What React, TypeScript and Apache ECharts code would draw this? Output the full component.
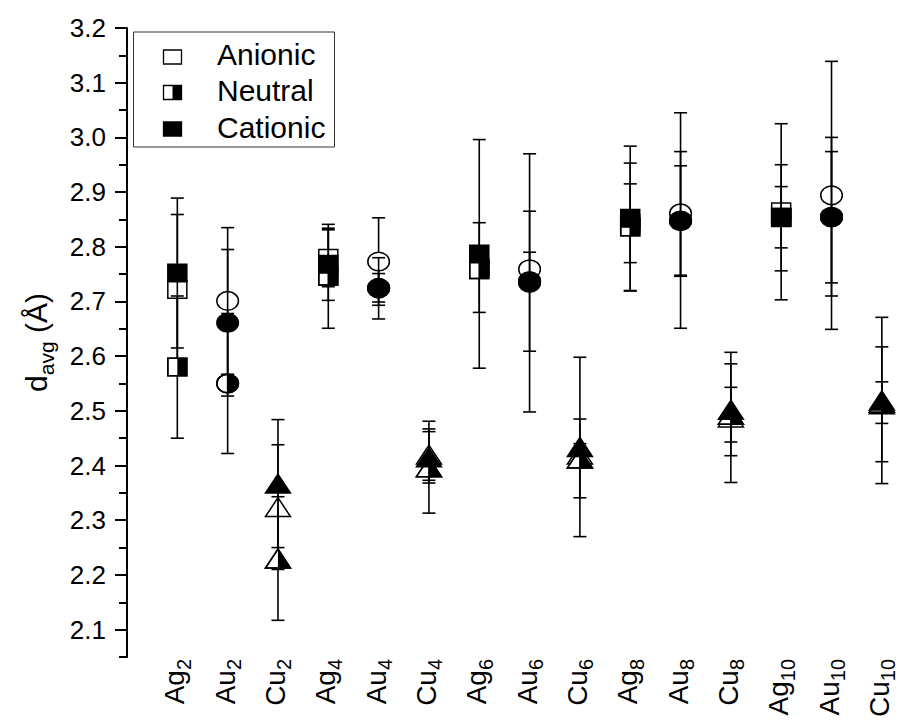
import React, { useEffect, useRef } from 'react';
import * as echarts from 'echarts';

const categories = ['Ag2', 'Au2', 'Cu2', 'Ag4', 'Au4', 'Cu4', 'Ag6', 'Au6', 'Cu6', 'Ag8', 'Au8', 'Cu8', 'Ag10', 'Au10', 'Cu10'];
const seriesNames = ['Anionic', 'Neutral', 'Cationic'];

const anionic = [2.722, 2.701, 2.324, 2.779, 2.773, 2.420, 2.762, 2.759, 2.420, 2.843, 2.861, 2.488, 2.864, 2.894, 2.512];
const anionicErr = [0.137, 0.134, 0.114, 0.052, 0.080, 0.047, 0.082, 0.031, 0.020, 0.072, 0.113, 0.119, 0.161, 0.245, 0.105];
const neutral = [2.580, 2.550, 2.230, 2.746, 2.724, 2.397, 2.758, 2.737, 2.413, 2.836, 2.847, 2.493, 2.854, 2.854, 2.515];
const neutralErr = [0.130, 0.128, 0.113, 0.095, 0.056, 0.084, 0.015, 0.128, 0.072, 0.117, 0.101, 0.050, 0.056, 0.120, 0.038];
const cationic = [2.752, 2.661, 2.367, 2.768, 2.725, 2.415, 2.787, 2.734, 2.434, 2.852, 2.848, 2.502, 2.853, 2.855, 2.519];
const cationicErr = [0.137, 0.134, 0.117, 0.066, 0.026, 0.047, 0.209, 0.236, 0.164, 0.132, 0.197, 0.084, 0.097, 0.145, 0.152];

const yTicks = [2.1, 2.2, 2.3, 2.4, 2.5, 2.6, 2.7, 2.8, 2.9, 3.0, 3.1, 3.2];
const yMinorTicks = [2.05, 2.15, 2.25, 2.35, 2.45, 2.55, 2.65, 2.75, 2.85, 2.95, 3.05, 3.15];

const FONT = '"Liberation Sans", Arial, Helvetica, sans-serif';

function halfEllipse(cx: number, cy: number, rx: number, ry: number) {
  const pts: number[][] = [];
  for (let k = 0; k <= 24; k++) {
    const a = -Math.PI / 2 + (Math.PI * k) / 24;
    pts.push([cx + rx * Math.cos(a), cy + ry * Math.sin(a)]);
  }
  return pts;
}

function makeRender(kind: number) {
  return (params: any, api: any) => {
    const xi = api.value(0);
    const v = api.value(1);
    const e = api.value(2);
    const p = api.coord([xi, v]);
    const t = api.coord([xi, v + e]);
    const b = api.coord([xi, v - e]);
    const el = categories[xi - 1].slice(0, 2);
    const bar = { stroke: '#000', lineWidth: 1.6, fill: 'none' };
    const cw = 6.5;
    const children: any[] = [
      { type: 'line', shape: { x1: p[0], y1: t[1], x2: p[0], y2: b[1] }, style: bar },
      { type: 'line', shape: { x1: p[0] - cw, y1: t[1], x2: p[0] + cw, y2: t[1] }, style: bar },
      { type: 'line', shape: { x1: p[0] - cw, y1: b[1], x2: p[0] + cw, y2: b[1] }, style: bar },
    ];
    const fill = kind === 2 ? '#000' : '#fff';
    const ms = { fill, stroke: '#000', lineWidth: 1.5 };
    const outline = { fill: 'none', stroke: '#000', lineWidth: 1.5 };
    const [cx, cy] = p;
    if (el === 'Ag') {
      const w = 19, h = 17.5;
      children.push({ type: 'rect', shape: { x: cx - w / 2, y: cy - h / 2, width: w, height: h }, style: ms });
      if (kind === 1) {
        children.push({ type: 'rect', shape: { x: cx, y: cy - h / 2, width: w / 2, height: h }, style: { fill: '#000' } });
        children.push({ type: 'rect', shape: { x: cx - w / 2, y: cy - h / 2, width: w, height: h }, style: outline });
      }
    } else if (el === 'Au') {
      const rx = 10.8, ry = 9.3;
      children.push({ type: 'ellipse', shape: { cx, cy, rx, ry }, style: ms });
      if (kind === 1) {
        children.push({ type: 'polygon', shape: { points: halfEllipse(cx, cy, rx, ry) }, style: { fill: '#000' } });
        children.push({ type: 'ellipse', shape: { cx, cy, rx, ry }, style: outline });
      }
    } else {
      const w = 25, h = 19;
      const tri = [[cx, cy - h / 2], [cx + w / 2, cy + h / 2], [cx - w / 2, cy + h / 2]];
      children.push({ type: 'polygon', shape: { points: tri }, style: ms });
      if (kind === 1) {
        children.push({ type: 'polygon', shape: { points: [[cx, cy - h / 2], [cx + w / 2, cy + h / 2], [cx, cy + h / 2]] }, style: { fill: '#000' } });
        children.push({ type: 'polygon', shape: { points: tri }, style: outline });
      }
    }
    return { type: 'group', children };
  };
}

function legendGraphic() {
  const rows = [57, 92.5, 129];
  const textY = [54, 90, 127];
  const items: any[] = [
    { type: 'rect', shape: { x: 133.5, y: 32, width: 201, height: 115 }, style: { fill: '#fff', stroke: '#333', lineWidth: 1 }, z: 10 },
  ];
  seriesNames.forEach((name, i) => {
    const cx = 172.5, cy = rows[i], w = 18, h = 14;
    items.push({ type: 'rect', shape: { x: cx - w / 2, y: cy - h / 2, width: w, height: h }, style: { fill: i === 2 ? '#000' : '#fff', stroke: '#000', lineWidth: 1.3 }, z: 11 });
    if (i === 1) {
      items.push({ type: 'rect', shape: { x: cx, y: cy - h / 2, width: w / 2, height: h }, style: { fill: '#000' }, z: 12 });
    }
    items.push({ type: 'text', x: 217, y: textY[i], style: { text: name, fontSize: 30, fontFamily: FONT, fill: '#000', verticalAlign: 'middle', align: 'left' }, z: 11 });
  });
  return items;
}

function catLabel(v: number) {
  const c = categories[Math.round(v) - 1];
  if (!c) return '';
  const m = c.match(/^([A-Za-z]+)(\d+)$/);
  if (!m) return c;
  return '{e|' + m[1] + '}{s|' + m[2] + '}';
}

export default function App() {
  const ref = useRef<HTMLDivElement>(null);
  useEffect(() => {
    const chart = echarts.init(ref.current!, null, { renderer: 'svg' });
    const mk = (vals: number[], errs: number[]) => vals.map((v, i) => [i + 1, v, errs[i]]);
    const option: any = {
      animation: false,
      backgroundColor: '#fff',
      grid: { left: 127, right: 6, top: 28, bottom: 56.5, containLabel: false },
      xAxis: {
        type: 'value',
        min: 0,
        max: 15.5,
        axisLine: { show: false },
        axisTick: { show: false },
        splitLine: { show: false },
        axisLabel: {
          customValues: categories.map((_, i) => i + 1),
          rotate: 90,
          margin: 2,
          formatter: (v: number) => catLabel(v),
          rich: {
            e: { fontSize: 28, fontFamily: FONT, color: '#000', verticalAlign: 'bottom', padding: [0, 0, 5, 0] },
            s: { fontSize: 20, fontFamily: FONT, color: '#000', verticalAlign: 'bottom' },
          },
        },
      },
      yAxis: [
        {
          type: 'value',
          position: 'left',
          min: 2.05,
          max: 3.2,
          name: '{d|d}{s|avg}{d| (Å)}',
          nameLocation: 'middle',
          nameGap: 70,
          nameRotate: 90,
          nameTextStyle: {
            rich: {
              d: { fontSize: 30, fontFamily: FONT, color: '#000', verticalAlign: 'bottom', padding: [0, 0, 6, 0] },
              s: { fontSize: 21, fontFamily: FONT, color: '#000', verticalAlign: 'bottom' },
            },
          },
          axisLine: { show: true, lineStyle: { color: '#000', width: 2 } },
          axisTick: { show: true, customValues: yTicks, length: 12, lineStyle: { color: '#000', width: 2 } },
          axisLabel: {
            customValues: yTicks,
            formatter: (v: number) => v.toFixed(1),
            fontSize: 26,
            fontFamily: FONT,
            color: '#000',
            margin: 21,
          },
          splitLine: { show: false },
        },
        {
          type: 'value',
          position: 'left',
          min: 2.05,
          max: 3.2,
          axisLine: { show: false },
          axisTick: { show: true, customValues: yMinorTicks, length: 8, lineStyle: { color: '#000', width: 2 } },
          axisLabel: { show: false },
          splitLine: { show: false },
        },
      ],
      series: [
        { type: 'custom', name: seriesNames[0], renderItem: makeRender(0), data: mk(anionic, anionicErr), encode: { x: 0, y: 1 } },
        { type: 'custom', name: seriesNames[1], renderItem: makeRender(1), data: mk(neutral, neutralErr), encode: { x: 0, y: 1 } },
        { type: 'custom', name: seriesNames[2], renderItem: makeRender(2), data: mk(cationic, cationicErr), encode: { x: 0, y: 1 } },
      ],
      graphic: legendGraphic(),
    };
    chart.setOption(option);
    return () => chart.dispose();
  }, []);
  return <div ref={ref} style={{ position: 'fixed', left: 0, top: 0, width: 913, height: 720 }} />;
}
